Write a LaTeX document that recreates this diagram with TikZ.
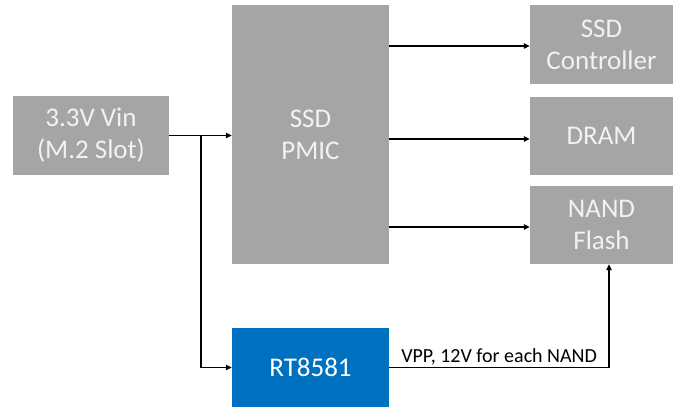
\documentclass[tikz,border=0pt]{standalone}
\usepackage{fontspec}
\setmainfont{Carlito}
\usetikzlibrary{arrows.meta}
\definecolor{boxgray}{HTML}{A5A5A5}
\definecolor{boxblue}{HTML}{0070C0}
\definecolor{boxtext}{HTML}{F2F2F2}
\tikzset{
  block/.style={rectangle, fill=boxgray, text=boxtext, inner sep=0pt, align=center,
    font=\fontsize{27}{32}\selectfont},
  bluebox/.style={block, fill=boxblue, text=white},
  arr/.style={line width=1.3pt, -{Triangle[length=6pt,width=5.5pt]}}
}
\begin{document}
\begin{tikzpicture}[x=1pt, y=-1pt]
			%%%%% START %%%%%
			\useasboundingbox (0, 0) rectangle (675, 407);
			
			\node[block, minimum width=156, minimum height=79] (vin) at (91, 135.5) {3.3V Vin\\(M.2 Slot)};
			\node[block, minimum width=157, minimum height=259] (pmic) at (310.5, 134.5) {SSD\\PMIC};
			\node[block, minimum width=143, minimum height=79] (ctrl) at (601.5, 44.5) {SSD\\Controller};
			\node[block, minimum width=143, minimum height=78] (dram) at (601.5, 136) {DRAM};
			\node[block, minimum width=143, minimum height=78] (nand) at (601.5, 225) {NAND\\Flash};
			\node[bluebox, minimum width=157, minimum height=79] (rt) at (310.5, 367.5) {RT8581};
			
			\draw[arr] (vin.east) -- (vin.east -| pmic.west);
			\coordinate (split) at (201, 135.5);
			\draw[arr] (split) |- (rt.west);
			
			\draw[arr] ([yshift=-1.5]ctrl.west -| pmic.east) -- ([yshift=-1.5]ctrl.west);
			\draw[arr] ([yshift=-3]dram.west -| pmic.east) -- ([yshift=-3]dram.west);
			\draw[arr] ([yshift=-2]nand.west -| pmic.east) -- ([yshift=-2]nand.west);
			
			\draw[arr] (rt.east) -| node[pos=0.25, above, inner sep=2pt, font=\fontsize{20}{24}\selectfont] {VPP, 12V for each NAND} ([xshift=7.5]nand.south);
			%%%%% END %%%%%
\end{tikzpicture}
\end{document}
